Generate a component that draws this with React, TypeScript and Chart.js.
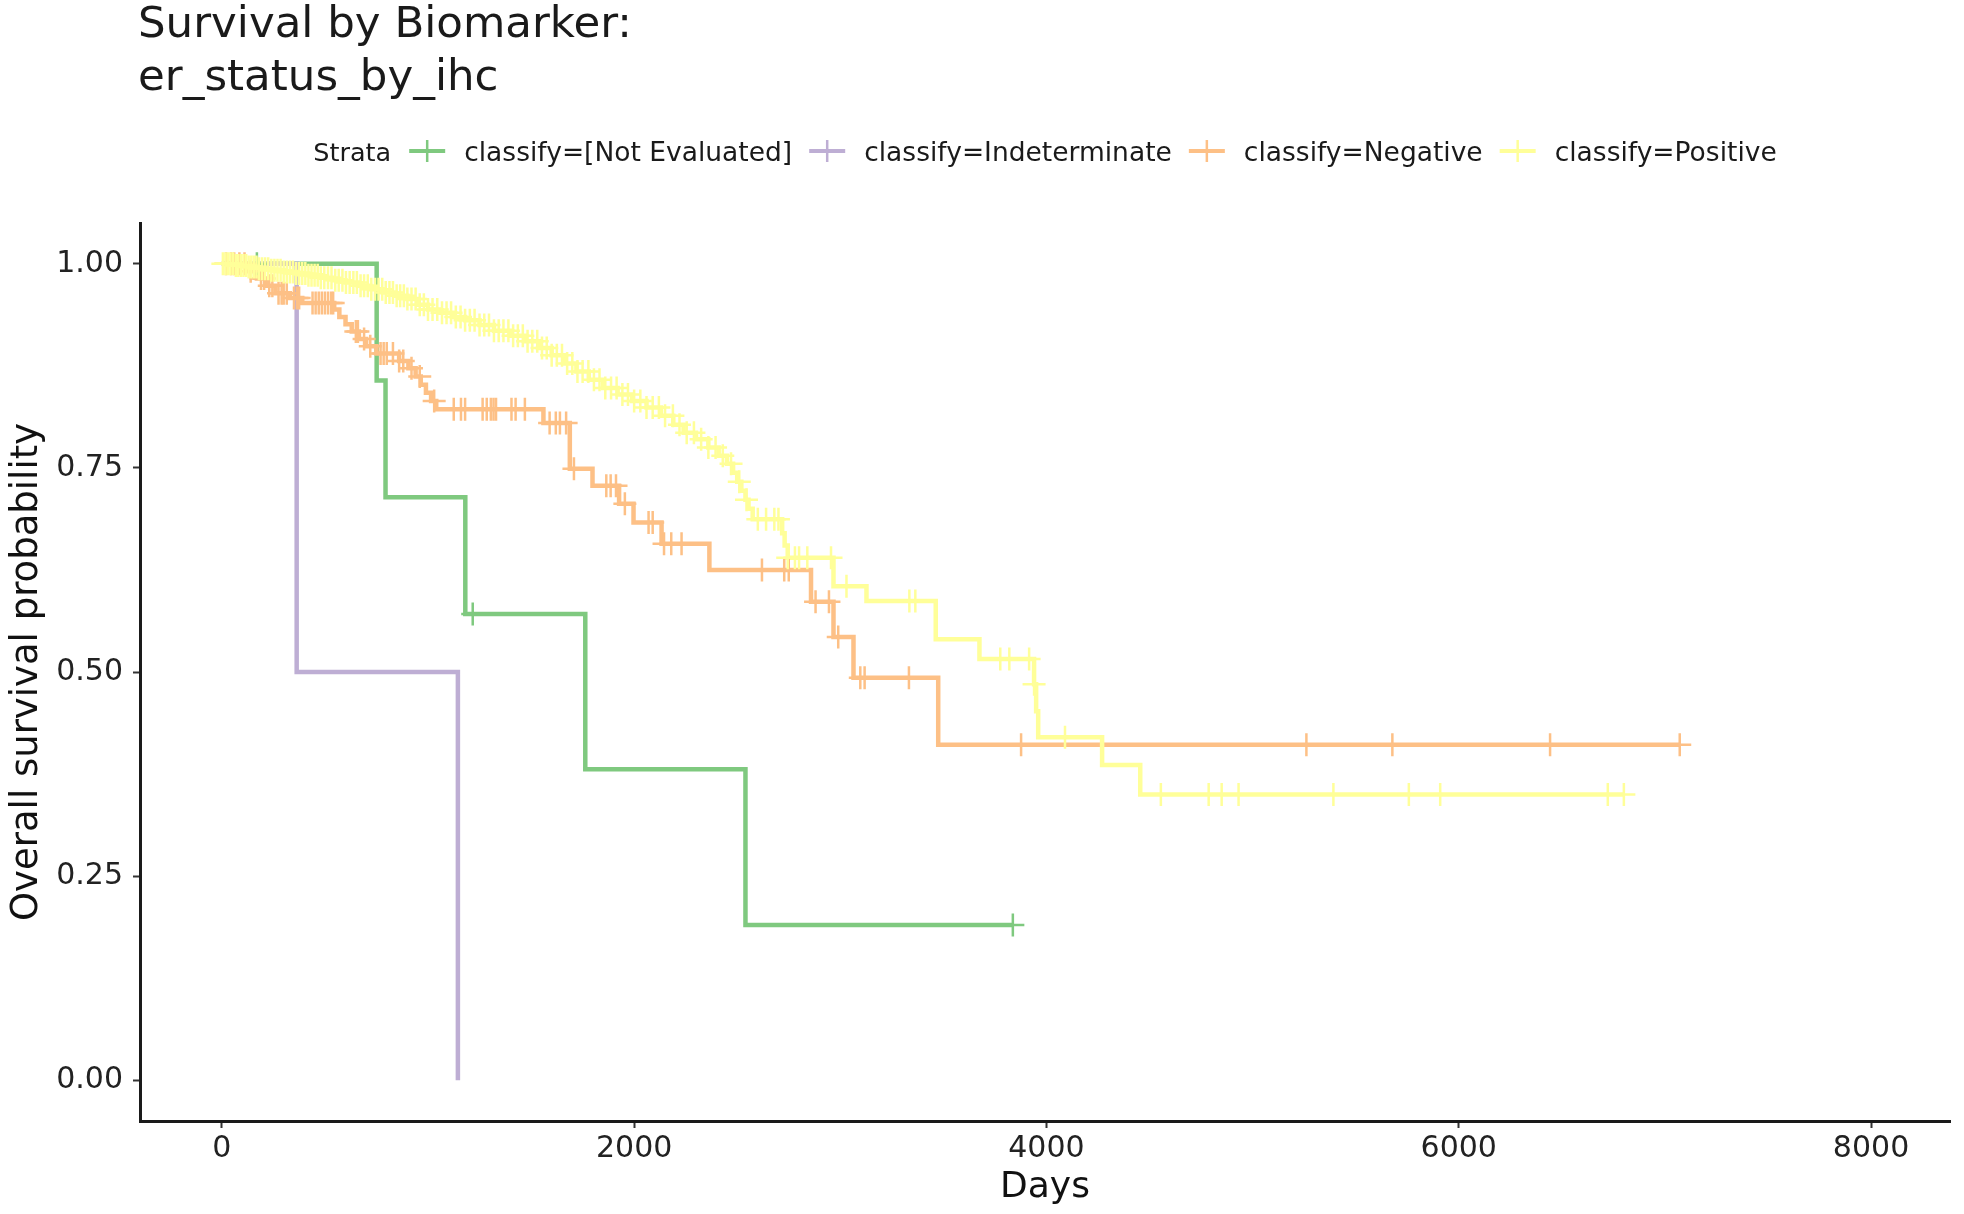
import React, { useEffect, useRef } from 'react';
import { Chart, registerables } from 'chart.js';

Chart.register(...registerables);

const FONT = '"DejaVu Sans", sans-serif';

const TITLE_LINES = ['Survival by Biomarker:', 'er_status_by_ihc'];
const LEGEND_TITLE = 'Strata';
const STRATA = [
  'classify=[Not Evaluated]',
  'classify=Indeterminate',
  'classify=Negative',
  'classify=Positive',
];
const COLORS = ['#7FC97F', '#BEAED4', '#FDC086', '#FFFF99'];
const X_TITLE = 'Days';
const Y_TITLE = 'Overall survival probability';
const X_TICKS = [0, 2000, 4000, 6000, 8000];
const X_TICK_LABELS = ['0', '2000', '4000', '6000', '8000'];
const Y_TICKS = [0, 0.25, 0.5, 0.75, 1];
const Y_TICK_LABELS = ['0.00', '0.25', '0.50', '0.75', '1.00'];

// classify=[Not Evaluated]
const NE_TIMES = [0, 751, 794, 1181, 1763, 2540, 3837];
const NE_SURV = [1, 0.857, 0.714, 0.571, 0.381, 0.19, 0.19];
const NE_CENSOR = [170, 1217, 3837];

// classify=Indeterminate
const IND_TIMES = [0, 363, 1145];
const IND_SURV = [1, 0.5, 0];
const IND_CENSOR: number[] = [];

// classify=Negative
const NEG_TIMES = [
  0, 120, 170, 215, 260, 330, 390, 545, 570, 600, 630, 665, 700, 750, 860, 905, 940, 965, 990,
  1015, 1040, 1560, 1688, 1798, 1927, 1997, 2133, 2365, 2858, 2967, 3064, 3475, 7072,
];
const NEG_SURV = [
  1, 0.991, 0.982, 0.973, 0.964, 0.958, 0.952, 0.944, 0.935, 0.926, 0.917, 0.908, 0.899, 0.89,
  0.881, 0.872, 0.862, 0.852, 0.842, 0.832, 0.822, 0.805, 0.749, 0.728, 0.706, 0.683, 0.657,
  0.625, 0.586, 0.543, 0.493, 0.411, 0.411,
];
const NEG_CENSOR = [
  20, 45, 60, 85, 110, 140, 190, 205, 230, 245, 275, 290, 300, 315, 350, 365, 375, 440, 455,
  470, 485, 500, 515, 530, 540, 650, 660, 690, 720, 770, 785, 800, 830, 860, 880, 920, 960,
  1030, 1125, 1160, 1180, 1265, 1285, 1305, 1318, 1330, 1405, 1425, 1470, 1590, 1620, 1640,
  1670, 1708, 1865, 1886, 1912, 1955, 2070, 2090, 2145, 2180, 2230, 2620, 2728, 2750, 2880,
  2945, 2990, 3097, 3118, 3333, 3877, 5261, 5678, 6443, 7072,
];

// classify=Positive
const POS_TIMES = [
  0, 60, 120, 180, 240, 300, 360, 420, 480, 540, 600, 660, 720, 780, 840, 900, 950, 1000, 1060,
  1120, 1180, 1250, 1320, 1400, 1470, 1540, 1600, 1660, 1720, 1780, 1850, 1920, 1990, 2060,
  2130, 2190, 2240, 2300, 2360, 2410, 2450, 2480, 2500, 2520, 2540, 2555, 2575, 2718, 2730,
  2745, 2967, 3127, 3463, 3675, 3940, 3950, 3960, 4270, 4455, 6801,
];
const POS_SURV = [
  1, 0.998, 0.996, 0.994, 0.992, 0.99, 0.988, 0.986, 0.983, 0.98, 0.977, 0.973, 0.969, 0.965,
  0.961, 0.957, 0.95, 0.944, 0.94, 0.935, 0.931, 0.925, 0.918, 0.912, 0.905, 0.897, 0.888,
  0.878, 0.868, 0.858, 0.848, 0.84, 0.832, 0.824, 0.814, 0.803, 0.793, 0.785, 0.775, 0.765,
  0.755, 0.744, 0.733, 0.722, 0.711, 0.7, 0.687, 0.67, 0.655, 0.64, 0.605, 0.587, 0.54, 0.516,
  0.485, 0.452, 0.42, 0.386, 0.35, 0.35,
];
const POS_CENSOR = [
  5, 18, 30, 42, 55, 68, 80, 93, 105, 118, 130, 143, 155, 168, 180, 195, 210, 225, 240, 255,
  270, 285, 300, 315, 330, 345, 360, 375, 390, 405, 420, 435, 450, 465, 480, 497, 515, 532,
  550, 567, 585, 602, 620, 638, 655, 673, 690, 708, 725, 743, 760, 778, 795, 813, 830, 848,
  865, 883, 900, 920, 940, 960, 980, 1000, 1022, 1045, 1068, 1090, 1112, 1135, 1158, 1180,
  1203, 1226, 1250, 1273, 1296, 1320, 1343, 1366, 1390, 1413, 1436, 1460, 1483, 1506, 1530,
  1553, 1576, 1600, 1625, 1650, 1675, 1700, 1725, 1750, 1778, 1805, 1832, 1860, 1888, 1915,
  1943, 1970, 2000, 2030, 2060, 2090, 2120, 2150, 2188, 2220, 2255, 2290, 2325, 2360, 2395,
  2430, 2470, 2510, 2545, 2600, 2640, 2680, 2700, 2745, 2780, 2800, 2840, 2955, 3030, 3335,
  3364, 3776, 3820, 3916, 3940, 4090, 4555, 4787, 4850, 4932, 5392, 5758, 5910, 6723, 6801,
];

const X_MIN = -397;
const X_MAX = 8383;
const Y_MIN = -0.05;
const Y_MAX = 1.05;

function stepAt(times: number[], surv: number[], t: number) {
  let v = surv[0];
  for (let i = 0; i < times.length; i++) {
    if (times[i] <= t) v = surv[i];
  }
  return v;
}

const overlayPlugin = {
  id: 'kmOverlay',
  afterDraw(chart: any) {
    const { ctx, chartArea } = chart;
    ctx.save();
    ctx.fillStyle = '#1a1a1a';
    ctx.textAlign = 'left';
    ctx.textBaseline = 'alphabetic';
    ctx.font = `43.5px ${FONT}`;
    TITLE_LINES.forEach((line, i) => ctx.fillText(line, chartArea.left - 2, 37 + i * 53));

    const gapTitle = 18;
    const markerW = 36;
    const gapMarker = 19;
    const gapItem = 17;
    ctx.font = `26.5px ${FONT}`;
    const widths = STRATA.map((s) => ctx.measureText(s).width);
    ctx.font = `25.5px ${FONT}`;
    const titleW = ctx.measureText(LEGEND_TITLE).width;
    let total = titleW + gapTitle;
    widths.forEach((w, i) => {
      total += markerW + gapMarker + w + (i < widths.length - 1 ? gapItem : 0);
    });
    let x = (chartArea.left + chartArea.right) / 2 - total / 2;
    const yMid = 151;
    const baseline = 161;
    ctx.fillText(LEGEND_TITLE, x, baseline);
    x += titleW + gapTitle;
    ctx.font = `26.5px ${FONT}`;
    STRATA.forEach((s, i) => {
      ctx.strokeStyle = COLORS[i];
      ctx.lineWidth = 4;
      ctx.beginPath();
      ctx.moveTo(x, yMid);
      ctx.lineTo(x + markerW, yMid);
      ctx.stroke();
      ctx.lineWidth = 2.5;
      ctx.beginPath();
      ctx.moveTo(x + markerW / 2, yMid - 11);
      ctx.lineTo(x + markerW / 2, yMid + 11);
      ctx.stroke();
      x += markerW + gapMarker;
      ctx.fillStyle = '#1a1a1a';
      ctx.fillText(s, x, baseline);
      x += widths[i] + gapItem;
    });
    ctx.restore();
  },
};

export default function App() {
  const ref = useRef<HTMLCanvasElement>(null);

  useEffect(() => {
    if (!ref.current) return;
    const curves = [
      { times: NE_TIMES, surv: NE_SURV, censor: NE_CENSOR },
      { times: IND_TIMES, surv: IND_SURV, censor: IND_CENSOR },
      { times: NEG_TIMES, surv: NEG_SURV, censor: NEG_CENSOR },
      { times: POS_TIMES, surv: POS_SURV, censor: POS_CENSOR },
    ];
    const datasets: any[] = [];
    curves.forEach((c, i) => {
      datasets.push({
        type: 'line',
        label: STRATA[i],
        data: c.times.map((t, k) => ({ x: t, y: c.surv[k] })),
        borderColor: COLORS[i],
        backgroundColor: COLORS[i],
        borderWidth: 4.5,
        pointRadius: 0,
        stepped: true,
        fill: false,
        clip: false,
        order: 10 + (3 - i),
      });
      datasets.push({
        type: 'line',
        label: STRATA[i] + ' censored',
        data: c.censor.map((t) => ({ x: t, y: stepAt(c.times, c.surv, t) })),
        showLine: false,
        pointStyle: 'cross',
        pointRadius: 11.5,
        pointBorderWidth: 2.5,
        pointBorderColor: COLORS[i],
        borderColor: COLORS[i],
        backgroundColor: COLORS[i],
        clip: false,
        order: 3 - i,
      });
    });

    const tickFont = { family: FONT, size: 30 };
    const titleFont = { family: FONT, size: 37 };

    const chart = new Chart(ref.current, {
      type: 'line',
      data: { datasets },
      plugins: [overlayPlugin],
      options: {
        responsive: true,
        maintainAspectRatio: false,
        animation: false,
        events: [],
        layout: { padding: { top: 223, right: 10, bottom: 0, left: 0 } },
        plugins: {
          legend: { display: false },
          title: { display: false },
          tooltip: { enabled: false },
        },
        scales: {
          x: {
            type: 'linear',
            min: X_MIN,
            max: X_MAX,
            afterBuildTicks: (s: any) => {
              s.ticks = X_TICKS.map((v) => ({ value: v }));
            },
            afterFit: (s: any) => {
              s.height = 93;
            },
            ticks: {
              callback: (_v: any, idx: number) => X_TICK_LABELS[idx],
              font: tickFont,
              color: '#222',
              padding: 3,
              maxRotation: 0,
              autoSkip: false,
            },
            grid: {
              display: true,
              drawOnChartArea: false,
              drawTicks: true,
              tickLength: 7,
              tickColor: '#333',
              tickWidth: 2,
            },
            border: { display: true, color: '#1a1a1a', width: 3 },
            title: {
              display: true,
              text: X_TITLE,
              font: { family: FONT, size: 36 },
              color: '#111',
              padding: { top: 0, bottom: 5 },
            },
          },
          y: {
            type: 'linear',
            min: Y_MIN,
            max: Y_MAX,
            afterBuildTicks: (s: any) => {
              s.ticks = Y_TICKS.map((v) => ({ value: v }));
            },
            afterFit: (s: any) => {
              s.width = 140;
            },
            ticks: {
              callback: (_v: any, idx: number) => Y_TICK_LABELS[idx],
              font: tickFont,
              color: '#222',
              padding: 10,
              autoSkip: false,
            },
            grid: {
              display: true,
              drawOnChartArea: false,
              drawTicks: true,
              tickLength: 7,
              tickColor: '#333',
              tickWidth: 2,
            },
            border: { display: true, color: '#1a1a1a', width: 3 },
            title: {
              display: true,
              text: Y_TITLE,
              font: titleFont,
              color: '#111',
              padding: { top: 5, bottom: 0 },
            },
          },
        },
      } as any,
    });
    return () => chart.destroy();
  }, []);

  return (
    <div style={{ position: 'absolute', left: 0, top: 0, width: 1964, height: 1214, background: '#fff' }}>
      <canvas ref={ref} />
    </div>
  );
}
